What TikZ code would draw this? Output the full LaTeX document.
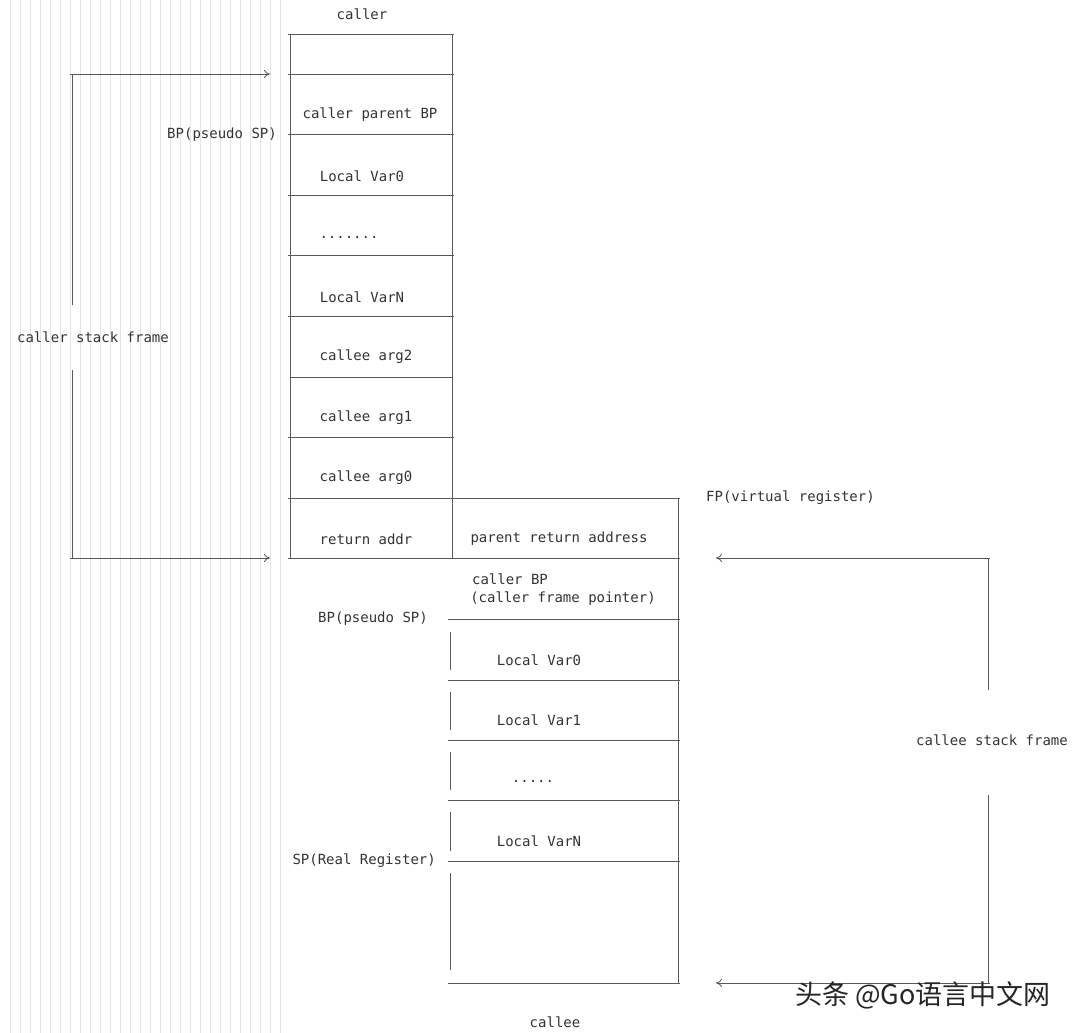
\documentclass[tikz,border=0pt]{standalone}
\usepackage{fontspec}
\usetikzlibrary{arrows.meta}
\setmainfont{DejaVu Sans Mono}
\newfontfamily\cjk{Noto Sans CJK SC}
\begin{document}
\begin{tikzpicture}[x=1pt,y=-1pt,
  ln/.style={draw=black!65,line width=0.8pt},
  arr/.style={ln,-{To[length=6pt,width=8pt]}},
  t/.style={font=\fontsize{14}{16}\selectfont,text=black!80,inner sep=0pt},
  g/.style={draw=black!10,line width=0.6pt}]
\useasboundingbox (0,0) rectangle (1080,1033);
% faint background guides
\foreach \x in {10,20,...,280} \draw[g] (\x,0) -- (\x,1033);
% left column
\node[t] (caller) at (362,14) {caller};
\foreach \y in {34,74,134,195,255,316,437} \draw[ln] (288,\y) -- (454,\y);
\draw[ln] (290,377) -- (452,377);
\draw[ln] (290,34) -- (290,498) (452,34) -- (452,498);
\draw[ln] (288,498) -- (680,498);
\draw[ln] (288,558) -- (680,558);
\draw[ln] (290,498) -- (290,558) (452,498) -- (452,558) (678,498) -- (678,558);
\node[t] (cpbp) at (370,115) {caller parent BP};
\node[t,anchor=east] (bp1) at (277,135) {BP(pseudo SP)};
\node[t] (lv0) at (362,176) {Local Var0};
\node[t] (dots1) at (349,237) {.......};
\node[t] (lvn) at (362,297) {Local VarN};
\node[t] (a2) at (366,357) {callee arg2};
\node[t] (a1) at (366,418) {callee arg1};
\node[t] (a0) at (366,478) {callee arg0};
\node[t,anchor=west] (fp) at (706,498) {FP(virtual register)};
\node[t] (ra) at (366,539) {return addr};
\node[t] (pra) at (559,539) {parent return address};
% left bracket
\coordinate (l1) at (70,74); \coordinate (l1e) at (270,74);
\coordinate (l2) at (70,558); \coordinate (l2e) at (270,558);
\draw[arr] (l1) -- (l1e);
\draw[arr] (l2) -- (l2e);
\draw[ln] (72,74) -- (72,305) (72,370) -- (72,558);
\node[t] (csf) at (93,337) {caller stack frame};
% right column
\foreach \y in {619,680,740,800,861,983} \draw[ln] (448,\y) -- (680,\y);
\draw[ln] (678,558) -- (678,983);
\draw[ln] (450,632) -- (450,670) (450,692) -- (450,730) (450,752) -- (450,790) (450,812) -- (450,851) (450,873) -- (450,970);
\node[t] (cbp) at (510,579) {caller BP};
\node[t] (cfp) at (563,599) {(caller frame pointer)};
\node[t,anchor=east] (bp2) at (428,619) {BP(pseudo SP)};
\node[t] (rv0) at (539,660) {Local Var0};
\node[t] (rv1) at (539,720) {Local Var1};
\node[t] (dots2) at (533,781) {.....};
\node[t] (rvn) at (539,841) {Local VarN};
\node[t,anchor=east] (sp) at (436,861) {SP(Real Register)};
\node[t] (callee) at (555,1022) {callee};
% right bracket
\coordinate (r1) at (990,558); \coordinate (r1e) at (716,558);
\coordinate (r2) at (990,983); \coordinate (r2e) at (716,983);
\draw[arr] (r1) -- (r1e);
\draw[arr] (r2) -- (r2e);
\draw[ln] (988,558) -- (988,690) (988,795) -- (988,983);
\node[t] (cesf) at (992,740) {callee stack frame};
\node[font=\cjk\fontsize{27}{30}\selectfont,text=black!85,inner sep=0pt] (wm) at (923,995) {头条 @Go语言中文网};
\end{tikzpicture}
\end{document}
